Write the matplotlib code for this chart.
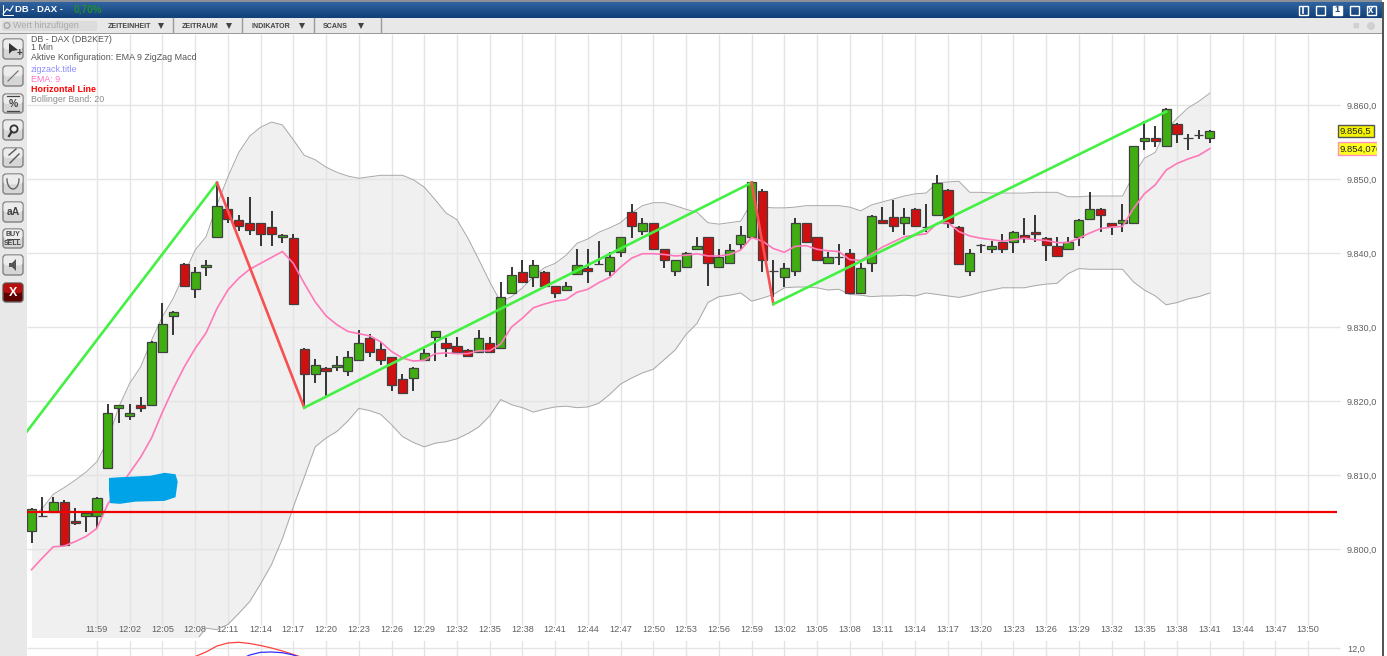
import numpy as np
import matplotlib
matplotlib.use('Agg')
from matplotlib import pyplot as plt
import matplotlib.patches as patches
from matplotlib.transforms import Bbox

W, H = 1387, 656
plt.rcParams['font.family'] = ['Liberation Sans', 'DejaVu Sans']

# one candle per minute, 0 = 11:53
opens = [9802.4, 9804.4, 9805.0, 9806.4, 9803.8, 9804.5, 9804.5, 9811.0, 9819.1, 9818.0,
         9819.4, 9819.5, 9826.6, 9831.5, 9838.5, 9835.1, 9838.1, 9842.1, 9846.0, 9844.5,
         9844.0, 9844.0, 9843.5, 9842.1, 9842.0, 9827.0, 9823.6, 9824.5, 9824.6, 9824.1,
         9825.6, 9828.5, 9827.0, 9825.9, 9823.0, 9823.1, 9825.6, 9828.6, 9827.9, 9827.5,
         9826.9, 9826.6, 9827.9, 9827.1, 9834.6, 9837.5, 9836.7, 9837.5, 9835.5, 9835.0,
         9837.1, 9838.0, 9838.5, 9837.6, 9840.1, 9845.5, 9843.0, 9844.0, 9840.5, 9837.6,
         9838.1, 9840.6, 9842.1, 9838.1, 9838.6, 9841.2, 9842.1, 9848.4, 9837.6, 9836.7,
         9837.6, 9844.0, 9842.1, 9838.6, 9839.4, 9840.0, 9834.6, 9838.6, 9844.5, 9844.9,
         9844.1, 9846.0, 9843.5, 9845.1, 9848.5, 9843.5, 9837.6, 9841.1, 9840.6, 9841.5,
         9841.5, 9842.5, 9842.9, 9842.0, 9841.0, 9840.6, 9842.1, 9844.6, 9846.0, 9844.0,
         9844.1, 9844.0, 9855.1, 9855.5, 9854.5, 9857.5, 9855.5, 9856.0, 9855.6]
closes = [9805.4, 9804.4, 9806.4, 9800.5, 9803.5, 9804.8, 9806.9, 9818.4, 9819.4, 9818.4,
          9819.1, 9828.0, 9830.4, 9832.0, 9835.6, 9837.5, 9838.4, 9846.4, 9844.6, 9843.6,
          9843.1, 9842.6, 9842.6, 9842.5, 9833.1, 9823.6, 9824.9, 9824.1, 9824.9, 9825.9,
          9827.9, 9826.6, 9825.6, 9822.1, 9821.1, 9824.5, 9826.5, 9829.4, 9827.1, 9826.6,
          9826.1, 9828.5, 9826.6, 9834.0, 9837.0, 9836.1, 9838.4, 9835.6, 9834.6, 9835.5,
          9838.4, 9837.6, 9838.5, 9839.4, 9842.1, 9843.6, 9844.0, 9840.6, 9839.1, 9839.0,
          9840.0, 9841.0, 9838.6, 9839.4, 9840.4, 9842.5, 9849.6, 9839.1, 9837.6, 9838.0,
          9844.0, 9841.5, 9839.1, 9839.4, 9839.4, 9834.6, 9838.0, 9845.0, 9844.1, 9843.6,
          9844.9, 9843.6, 9843.5, 9849.5, 9844.1, 9838.5, 9840.0, 9841.1, 9841.0, 9840.6,
          9842.9, 9842.0, 9842.6, 9841.1, 9839.6, 9841.5, 9844.5, 9846.0, 9845.1, 9843.6,
          9844.5, 9854.4, 9855.5, 9855.1, 9859.5, 9856.1, 9855.5, 9856.0, 9856.5]
highs = [9805.6, 9807.0, 9807.0, 9806.6, 9805.5, 9804.9, 9807.0, 9819.6, 9819.5, 9819.6,
         9820.6, 9828.1, 9833.2, 9832.1, 9838.6, 9838.1, 9839.1, 9849.4, 9847.6, 9845.1,
         9847.6, 9844.1, 9845.7, 9842.6, 9842.6, 9827.1, 9825.7, 9824.6, 9826.1, 9826.7,
         9829.6, 9829.1, 9828.0, 9826.0, 9823.6, 9824.6, 9827.0, 9829.5, 9828.5, 9828.7,
         9827.0, 9829.6, 9828.7, 9836.1, 9838.1, 9839.1, 9839.1, 9837.6, 9835.6, 9836.1,
         9840.6, 9840.6, 9841.6, 9840.2, 9842.2, 9846.6, 9844.7, 9844.1, 9840.6, 9839.1,
         9840.1, 9842.2, 9842.2, 9840.6, 9841.2, 9843.6, 9849.7, 9848.6, 9839.1, 9838.6,
         9844.7, 9844.1, 9842.2, 9840.2, 9841.2, 9840.6, 9838.6, 9845.1, 9846.2, 9847.1,
         9846.1, 9846.1, 9846.6, 9850.6, 9848.6, 9843.6, 9840.6, 9841.2, 9841.6, 9842.6,
         9843.0, 9844.7, 9845.1, 9842.1, 9842.2, 9842.2, 9844.6, 9848.2, 9846.1, 9844.1,
         9846.6, 9854.5, 9857.9, 9857.1, 9859.6, 9857.6, 9856.1, 9856.6, 9856.6]
lows = [9800.8, 9804.3, 9805.0, 9800.4, 9803.3, 9802.3, 9802.8, 9810.9, 9817.0, 9817.5,
        9818.5, 9819.4, 9826.5, 9828.9, 9835.5, 9833.9, 9836.9, 9842.0, 9844.0, 9843.0,
        9842.5, 9841.0, 9841.0, 9841.4, 9833.0, 9819.1, 9822.4, 9820.6, 9824.0, 9823.4,
        9825.5, 9825.9, 9824.9, 9821.4, 9821.0, 9821.4, 9825.5, 9825.4, 9825.9, 9826.5,
        9826.0, 9826.5, 9826.5, 9827.0, 9834.5, 9836.0, 9835.4, 9835.5, 9833.9, 9834.9,
        9837.0, 9835.9, 9838.4, 9836.9, 9839.4, 9842.0, 9842.4, 9840.5, 9838.0, 9836.9,
        9838.0, 9840.5, 9835.5, 9838.0, 9838.5, 9840.5, 9842.0, 9837.5, 9834.1, 9835.4,
        9836.9, 9841.4, 9839.0, 9838.5, 9838.4, 9834.5, 9834.5, 9837.5, 9844.0, 9842.9,
        9842.4, 9843.5, 9842.9, 9845.0, 9843.4, 9838.4, 9836.9, 9840.0, 9840.0, 9840.0,
        9840.0, 9841.4, 9841.5, 9838.9, 9839.5, 9840.5, 9841.0, 9844.5, 9842.9, 9842.5,
        9842.9, 9843.9, 9853.9, 9854.3, 9854.4, 9854.9, 9853.9, 9855.4, 9854.9]

ema = [9797.2, 9798.8, 9800.3, 9800.4, 9801.0, 9801.7, 9802.8, 9806.1, 9808.2, 9810.3,
       9812.4, 9815.0, 9818.5, 9821.7, 9824.6, 9827.1, 9829.2, 9832.5, 9835.0, 9836.6,
       9837.8, 9838.6, 9839.4, 9840.2, 9838.6, 9835.9, 9833.4, 9831.5, 9830.3, 9829.4,
       9829.1, 9828.8, 9828.0, 9826.7, 9825.8, 9825.4, 9825.5, 9826.4, 9826.5, 9826.4,
       9826.4, 9826.8, 9826.8, 9827.7, 9830.0, 9831.2, 9832.6, 9833.1, 9833.5, 9833.7,
       9834.7, 9835.1, 9836.0, 9836.7, 9838.1, 9839.3, 9839.9, 9839.9, 9839.8, 9839.6,
       9839.7, 9839.9, 9839.6, 9839.6, 9839.8, 9840.4, 9842.1, 9841.6, 9840.6, 9840.1,
       9840.9, 9841.0, 9840.5, 9840.3, 9840.2, 9839.1, 9839.0, 9839.9, 9840.8, 9841.5,
       9842.2, 9842.4, 9842.6, 9844.0, 9844.1, 9842.9, 9842.3, 9842.0, 9841.8, 9841.6,
       9841.8, 9842.0, 9841.8, 9841.7, 9841.4, 9841.4, 9842.0, 9842.7, 9843.3, 9843.5,
       9843.6, 9846.0, 9848.0, 9849.2, 9851.2, 9852.1, 9852.7, 9853.2, 9854.1]
boll_upper = [9804.3, 9805.5, 9807.4, 9808.3, 9809.3, 9810.4, 9811.8, 9814.7, 9819.2, 9822.4,
              9824.6, 9828.2, 9831.4, 9833.9, 9837.2, 9840.4, 9842.2, 9846.5, 9850.3, 9853.6,
              9855.8, 9857.0, 9857.7, 9857.3, 9855.3, 9853.2, 9852.6, 9851.6, 9850.9, 9850.4,
              9850.1, 9850.3, 9850.5, 9850.5, 9850.5, 9849.9, 9848.9, 9847.2, 9845.4, 9844.5,
              9842.0, 9839.1, 9836.1, 9833.4, 9834.1, 9835.3, 9836.8, 9838.0, 9838.6, 9839.7,
              9841.3, 9841.9, 9842.8, 9843.4, 9844.1, 9845.4, 9846.4, 9846.8, 9846.8, 9846.4,
              9845.9, 9845.5, 9844.1, 9843.9, 9844.1, 9844.3, 9846.8, 9846.2, 9846.1, 9846.1,
              9846.2, 9846.4, 9846.4, 9846.4, 9846.4, 9846.2, 9845.7, 9846.5, 9846.9, 9847.3,
              9847.7, 9848.0, 9848.1, 9849.5, 9849.6, 9849.7, 9848.2, 9848.2, 9848.1, 9848.1,
              9848.1, 9848.1, 9848.2, 9848.2, 9848.2, 9847.6, 9847.6, 9847.7, 9847.7, 9847.7,
              9847.7, 9850.5, 9852.8, 9853.6, 9856.6, 9858.2, 9859.6, 9860.5, 9861.6]
boll_lower = [9786.0, 9786.0, 9785.5, 9785.0, 9784.0, 9783.5, 9783.0, 9782.5, 9782.0, 9782.0,
              9782.5, 9783.0, 9784.0, 9785.0, 9786.0, 9787.5, 9789.3, 9789.1, 9789.8, 9791.3,
              9792.9, 9795.3, 9797.9, 9801.4, 9805.7, 9809.7, 9813.8, 9815.0, 9815.9, 9817.3,
              9819.0, 9818.7, 9818.2, 9816.8, 9815.2, 9814.4, 9813.8, 9814.3, 9814.5, 9814.9,
              9815.6, 9816.5, 9818.0, 9820.2, 9819.5, 9819.1, 9818.5, 9818.9, 9819.2, 9819.3,
              9819.1, 9819.2, 9819.7, 9820.9, 9822.3, 9823.1, 9823.8, 9824.3, 9825.6, 9826.9,
              9829.0, 9830.5, 9833.3, 9834.1, 9834.3, 9834.6, 9833.5, 9833.9, 9834.4, 9835.3,
              9835.4, 9835.4, 9835.3, 9835.0, 9835.1, 9834.4, 9834.3, 9834.1, 9834.2, 9834.2,
              9834.3, 9834.2, 9834.6, 9834.4, 9834.2, 9834.0, 9834.3, 9834.7, 9835.0, 9835.3,
              9835.3, 9835.3, 9835.6, 9835.8, 9835.9, 9837.2, 9837.9, 9837.8, 9837.8, 9837.8,
              9837.8, 9836.1, 9835.0, 9834.2, 9833.0, 9833.3, 9833.8, 9834.1, 9834.6]

zigzag_x = [-0.41, 17, 25, 66, 68, 104]
zigzag_y = [9815.9, 9849.5, 9819.1, 9849.5, 9833.1, 9859.1]
hline_price = 9805.0
hline_end = 119.7

blob_x = [7.1, 8.1, 10.9, 12.2, 13.2, 13.4, 13.2, 12.2, 9.5, 8.1, 7.2, 7.1]
blob_y = [9809.6, 9809.7, 9809.9, 9810.3, 9810.1, 9809.1, 9807.0, 9806.5, 9806.4, 9806.1, 9806.2, 9808.0]

y_ticks = [9800, 9810, 9820, 9830, 9840, 9850, 9860]
y_labels = ['9.800,0', '9.810,0', '9.820,0', '9.830,0', '9.840,0', '9.850,0', '9.860,0']
x_ticks = list(range(6, 118, 3))
x_labels = ['11:59', '12:02', '12:05', '12:08', '12:11', '12:14', '12:17', '12:20', '12:23', '12:26',
            '12:29', '12:32', '12:35', '12:38', '12:41', '12:44', '12:47', '12:50', '12:53', '12:56',
            '12:59', '13:02', '13:05', '13:08', '13:11', '13:14', '13:17', '13:20', '13:23', '13:26',
            '13:29', '13:32', '13:35', '13:38', '13:41', '13:44', '13:47', '13:50']

macd_x = [15, 16, 17, 18, 19, 20, 21, 22, 23, 24, 25]
macd_red = [3.5, 8, 14, 17, 17.7, 16.5, 14.5, 12, 9, 5.5, 2]
macd_blue_x = [19, 20, 21, 22, 23, 24, 25]
macd_blue = [0, 5, 7.7, 8, 7.3, 5, 1]

legend_lines = [('DB - DAX (DB2KE7)', '#555555', 39, 'normal'), ('1 Min', '#555555', 48, 'normal'),
                ('Aktive Konfiguration: EMA 9 ZigZag Macd', '#555555', 57, 'normal'),
                ('zigzack.title', '#8f8fff', 69, 'normal'), ('EMA: 9', '#ff70c8', 79, 'normal'),
                ('Horizontal Line', '#ff0000', 89, 'bold'), ('Bollinger Band: 20', '#8c8c8c', 99, 'normal')]

GRID = '#e4e4e4'
TXT = '#606060'


def px_axes(fig, left, top, right, bottom, **kw):
    return fig.add_axes([left / W, 1 - bottom / H, (right - left) / W, (bottom - top) / H], **kw)


def draw_button(ui, y0, y1, face='#ececec', lower='#d6d6d6', edge='#808080'):
    ui.add_patch(patches.FancyBboxPatch((3, y0 + 1), 20, y1 - y0 - 2, boxstyle='round,pad=0,rounding_size=3',
                                        fc=lower, ec=edge, lw=1, zorder=3))
    ui.add_patch(patches.FancyBboxPatch((3.5, y0 + 1.5), 19, (y1 - y0) * 0.45, boxstyle='round,pad=0,rounding_size=3',
                                        fc=face, ec='none', zorder=3))


def draw_chrome(ui):
    # title bar gradient
    grad = np.linspace(0, 1, 16).reshape(-1, 1)
    ui.imshow(grad, extent=(0, 1382, 18, 2), aspect='auto', zorder=1,
              cmap=matplotlib.colors.LinearSegmentedColormap.from_list('t', ['#2f639f', '#123f78']))
    ui.set_xlim(0, W)
    ui.set_ylim(H, 0)
    ui.add_patch(patches.Rectangle((0, 0), 1382, 2, fc='#8a8f96', ec='none', zorder=2))
    ui.add_patch(patches.Rectangle((0, 18), 1382, 15, fc='#e8e8e8', ec='none', zorder=1))
    ui.add_patch(patches.Rectangle((0, 33), 1382, 1, fc='#9a9a9a', ec='none', zorder=2))
    ui.add_patch(patches.Rectangle((0, 34), 27, H - 34, fc='#e8e8e8', ec='none', zorder=1))
    ui.add_patch(patches.Rectangle((1381.5, 2), 2.5, H, fc='#555555', ec='none', zorder=6))

    ui.plot([3, 7, 10, 13], [14, 9, 11, 6], color='white', lw=0.8, zorder=3)
    ui.plot([2.5, 2.5, 13], [5, 15, 15], color='white', lw=0.7, zorder=3)
    ui.text(15, 10, 'DB - DAX -', color='white', fontsize=6.8, fontweight='bold', va='center', zorder=4)
    ui.text(74, 10, '0,70%', color='#1f8f2f', fontsize=7.2, fontweight='bold', va='center', zorder=4)
    for i, x in enumerate([1303, 1320, 1337, 1354, 1371]):
        fc = 'white' if i == 2 else 'none'
        ui.add_patch(patches.Rectangle((x - 4.5, 5.5), 9, 9, fc=fc, ec='white', lw=1, zorder=4))
    ui.text(1337, 10, '1', color='#1c4a80', fontsize=6.5, fontweight='bold', ha='center', va='center', zorder=5)
    ui.text(1371, 10, 'x', color='white', fontsize=7, fontweight='bold', ha='center', va='center', zorder=5)
    ui.plot([1303, 1303], [7, 13], color='white', lw=1.2, zorder=5)

    # toolbar
    ui.add_patch(patches.FancyBboxPatch((2, 21), 95, 10, boxstyle='round,pad=0,rounding_size=2',
                                        fc='#dcdcdc', ec='none', zorder=2))
    ui.text(13, 26, 'Wert hinzufügen', color='#a8a8a8', fontsize=6.5, va='center', zorder=4)
    ui.add_patch(patches.Circle((7, 25.5), 2.8, fc='none', ec='#a8a8a8', lw=1, zorder=4))
    for name, x0, arrow_x, sep in [('ZEITEINHEIT', 108, 161, 173), ('ZEITRAUM', 182, 229, 242),
                                   ('INDIKATOR', 251, 302, 314), ('SCANS', 323, 361, 381)]:
        ui.text(x0, 26.5, name, color='#444444', fontsize=5.1, fontweight='bold', va='center', zorder=4)
        ui.plot([arrow_x], [26], marker='v', ms=4.2, color='#444444', mew=0, zorder=4)
        ui.plot([sep, sep], [18, 33], color='#9a9a9a', lw=1, zorder=4)
    ui.text(1356, 26, '\u25a0', color='#d0d0d0', fontsize=8, ha='center', va='center', zorder=4)
    ui.add_patch(patches.Circle((1371, 26), 4, fc='#d0d0d0', ec='none', zorder=4))

    # side buttons
    rows = [(38, 60), (65, 87), (93, 114), (119, 141), (147, 168), (173, 195), (201, 223), (228, 249), (254, 276)]
    for y0, y1 in rows:
        draw_button(ui, y0, y1)
    draw_button(ui, 282, 303, face='#b81010', lower='#5e0000', edge='#666666')
    ui.add_patch(patches.Polygon([(9, 43), (9, 54), (12, 51), (18, 50)], fc='#333333', ec='none', zorder=4))
    ui.text(19, 53, '+', color='#333333', fontsize=7, fontweight='bold', ha='center', va='center', zorder=4)
    ui.plot([8, 18], [81, 71], color='#777777', lw=0.9, zorder=4)
    ui.plot([7, 19], [96, 96], color='#444444', lw=0.9, zorder=4)
    ui.plot([7, 19], [111, 111], color='#444444', lw=0.9, zorder=4)
    ui.text(13, 104, '%', color='#444444', fontsize=7.5, fontweight='bold', ha='center', va='center', zorder=4)
    ui.add_patch(patches.Circle((14, 129), 3.6, fc='none', ec='#333333', lw=1.3, zorder=4))
    ui.plot([9, 11.5], [136, 132], color='#333333', lw=1.6, zorder=4)
    ui.plot([9, 16], [155, 149], color='#555555', lw=1, zorder=4)
    ui.plot([10, 19], [163, 154], color='#555555', lw=1, zorder=4)
    arc_t = np.linspace(np.pi, 0, 30)
    ui.plot(13 + 6 * np.cos(arc_t), 179 + 10 * np.sin(arc_t), color='#666666', lw=1, zorder=4)
    ui.text(13, 212, 'aA', color='#444444', fontsize=7.5, fontweight='bold', ha='center', va='center', zorder=4)
    ui.text(13, 234, 'BUY', color='#444444', fontsize=5, fontweight='bold', ha='center', va='center', zorder=4)
    ui.text(13, 243.5, 'SELL', color='#444444', fontsize=5, fontweight='bold', ha='center', va='center', zorder=4)
    ui.plot([7, 19], [238.7, 238.7], color='#444444', lw=0.7, zorder=4)
    ui.add_patch(patches.Polygon([(9, 263), (12, 263), (16, 259), (16, 271), (12, 267), (9, 267)],
                                 fc='#555555', ec='none', zorder=4))
    ui.text(13, 293, 'X', color='white', fontsize=9, fontweight='bold', ha='center', va='center', zorder=4)


fig = plt.figure(figsize=(W / 100, H / 100), dpi=100, facecolor='white')

ui = px_axes(fig, 0, 0, W, H)
ui.set_axis_off()
draw_chrome(ui)

# minute 0 sits at pixel 31.5, one minute is 10.91 px; 9800 at pixel 549, 7.4 px a point
xlim = ((27 - 31.5) / 10.91, (1381 - 31.5) / 10.91)
ylim = (9800 + (549 - 637) / 7.4, 9800 + (549 - 34) / 7.4)
grid_end = (1340 - 31.5) / 10.91

ax = px_axes(fig, 27, 34, 1381, 637, zorder=2)
ax.set_xlim(xlim)
ax.set_ylim(ylim)
for s in ax.spines.values():
    s.set_visible(False)

minutes = np.arange(len(opens))
grid_bottom = 9800 + (549 - 625) / 7.4

ax.set_xticks(x_ticks)
ax.set_xticklabels(x_labels)
ax.set_yticks(y_ticks)
ax.set_yticklabels(y_labels)
ax.yaxis.tick_right()
ax.tick_params(axis='x', length=0, pad=-8.5, labelsize=6.6, labelcolor=TXT)
ax.tick_params(axis='y', length=0, pad=-24.5, labelsize=6.6, labelcolor=TXT)

# bollinger band, grid shows through it
ax.fill_between(minutes, boll_lower, boll_upper, color='#f0f0f0', lw=0, zorder=1)
ax.vlines(x_ticks, grid_bottom, ylim[1], color=GRID, lw=1, zorder=1.6)
ax.hlines(y_ticks, xlim[0], grid_end, color=GRID, lw=1, zorder=1.6)
ax.plot(minutes, boll_upper, color='#a8a8a8', lw=0.7, zorder=2)
ax.plot(minutes, boll_lower, color='#a8a8a8', lw=0.7, zorder=2)

# candles
opens_a, closes_a = np.array(opens), np.array(closes)
colors = ['#40ae12' if c >= o else '#d01010' for o, c in zip(opens, closes)]
ax.vlines(minutes, lows, highs, color='#151515', lw=1.2, zorder=3)
ax.bar(minutes, closes_a - opens_a, 0.84, opens_a, color=colors, edgecolor='#404040', lw=0.9, zorder=4)

ax.plot(minutes, ema, color='#ff78b8', lw=1.2, zorder=5)
for i in range(len(zigzag_x) - 1):
    # rising legs green, falling legs red
    leg_color = '#44f044' if zigzag_y[i + 1] > zigzag_y[i] else '#f85050'
    ax.plot(zigzag_x[i:i + 2], zigzag_y[i:i + 2], color=leg_color, lw=1.9, zorder=6)
ax.hlines(hline_price, xlim[0], hline_end, color='#f00000', lw=1.6, zorder=7)
ax.fill(blob_x, blob_y, color='#00a2e8', lw=0, zorder=8)

# current value boxes
last_close = 9856.5
last_ema = 9854.076
box_x = (1340 - 31.5) / 10.91
ax.text(box_x, last_close, '9.856,5', fontsize=6.8, color='#222222', va='center', zorder=9,
        bbox=dict(fc='#f4f400', ec='#555555', lw=1, boxstyle='square,pad=0.2'))
ema_txt = ax.text(box_x, last_ema, '9.854,076', fontsize=6.8, color='#222222', va='center', zorder=9,
                  bbox=dict(fc='#ffff20', ec='#ff90c0', lw=1, boxstyle='square,pad=0.2'))
ema_txt.set_clip_on(True)
ema_txt.set_clip_box(Bbox([[0, 0], [1377, 656]]))
ema_txt.get_bbox_patch().set_clip_on(True)
ema_txt.get_bbox_patch().set_clip_box(Bbox([[0, 0], [1377, 656]]))

# legend block at top left
for txt, col, py, weight in legend_lines:
    fig.text(31 / W, 1 - py / H, txt, fontsize=6.4, color=col, fontweight=weight, va='center', zorder=9)

# macd panel
ax2 = px_axes(fig, 27, 641, 1381, 656, zorder=2)
ax2.set_xlim(xlim)
ax2.set_ylim(4, 19)
for s in ax2.spines.values():
    s.set_visible(False)
ax2.vlines(x_ticks, 0, 30, color=GRID, lw=1, zorder=1)
ax2.hlines([12], xlim[0], grid_end, color=GRID, lw=1, zorder=1)
ax2.plot(macd_x, macd_red, color='#ff4040', lw=0.9, zorder=3)
ax2.plot(macd_blue_x, macd_blue, color='#3030ff', lw=0.9, zorder=3)
ax2.set_xticks([])
ax2.set_yticks([12])
ax2.set_yticklabels(['12,0'])
ax2.yaxis.tick_right()
ax2.tick_params(axis='y', length=0, pad=-24.5, labelsize=6.6, labelcolor=TXT)

fig.savefig('out.png', dpi=100)
